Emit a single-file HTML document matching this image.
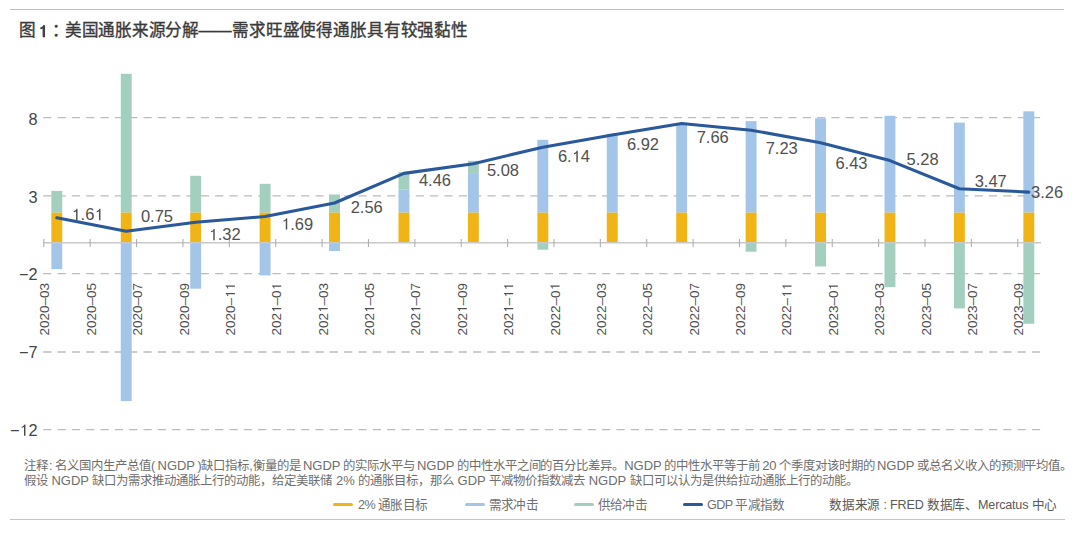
<!DOCTYPE html>
<html lang="zh-CN"><head><meta charset="utf-8">
<style>
html,body{margin:0;padding:0;background:#fff;}
body{width:1080px;height:534px;position:relative;overflow:hidden;font-family:"Liberation Sans",sans-serif;}
.rule{position:absolute;left:10px;height:1px;background:#bcbcbc;}
.t{position:absolute;top:20px;font-size:16.6px;letter-spacing:-0.3px;color:#3a3a3a;white-space:nowrap;line-height:22px;-webkit-text-stroke:0.35px #3a3a3a;}
svg{position:absolute;left:0;top:0;}
.dl{font-size:16.5px;fill:#505050;}
.yl{font-size:16.3px;fill:#454545;}
.xl{font-size:13.5px;fill:#4e4e4e;}
.note{position:absolute;left:24px;font-size:12.4px;color:#6e6e6e;white-space:nowrap;line-height:15px;}
.note .l{font-size:13px;}
.leg{position:absolute;top:497px;font-size:12.6px;letter-spacing:-0.6px;color:#707070;white-space:nowrap;line-height:16px;}
.sw{position:absolute;top:502.7px;width:20px;height:3px;border-radius:2px;}
</style></head><body>
<div class="rule" style="top:9px;width:1054px"></div>
<div class="t" style="left:18.5px">图</div>
<svg width="60" height="45" style="position:absolute;left:0;top:0"><path d="M580 0L760 0L760 1409L630 1409C585 1285 470 1165 290 1135L290 1000C425 1015 525 1065 580 1125Z" fill="#3a3a3a" stroke="#3a3a3a" stroke-width="120" transform="translate(38.4,36.9) scale(0.00811,-0.00811)"/></svg>
<div class="t" style="left:51.5px">：</div>
<div class="t" style="left:65px">美国通胀来源分解——</div>
<div class="t" style="left:232px;letter-spacing:-0.15px">需求旺盛使得通胀具有较强黏性</div>
<svg width="1080" height="534" viewBox="0 0 1080 534">
<line x1="43.2" y1="117.7" x2="1041" y2="117.7" stroke="#bcbcbc" stroke-width="1.3" stroke-dasharray="8.2 6.13"/>
<line x1="43.2" y1="195.9" x2="1041" y2="195.9" stroke="#bcbcbc" stroke-width="1.3" stroke-dasharray="8.2 6.13"/>
<line x1="43.2" y1="273.6" x2="1041" y2="273.6" stroke="#bcbcbc" stroke-width="1.3" stroke-dasharray="8.2 6.13"/>
<line x1="43.2" y1="352.0" x2="1041" y2="352.0" stroke="#bcbcbc" stroke-width="1.3" stroke-dasharray="8.2 6.13"/>
<line x1="43.2" y1="429.6" x2="1041" y2="429.6" stroke="#bcbcbc" stroke-width="1.3" stroke-dasharray="8.2 6.13"/>
<rect x="51.35" y="212.4" width="10.9" height="30.30" fill="#f1b416"/>
<rect x="51.35" y="242.7" width="10.9" height="26.50" fill="#a3c5e8"/>
<rect x="51.35" y="190.9" width="10.9" height="21.50" fill="#a3cfbf"/>
<rect x="120.78" y="212.4" width="10.9" height="30.30" fill="#f1b416"/>
<rect x="120.78" y="242.7" width="10.9" height="158.30" fill="#a3c5e8"/>
<rect x="120.78" y="73.8" width="10.9" height="138.60" fill="#a3cfbf"/>
<rect x="190.21" y="212.4" width="10.9" height="30.30" fill="#f1b416"/>
<rect x="190.21" y="242.7" width="10.9" height="46.00" fill="#a3c5e8"/>
<rect x="190.21" y="175.8" width="10.9" height="36.60" fill="#a3cfbf"/>
<rect x="259.64" y="212.4" width="10.9" height="30.30" fill="#f1b416"/>
<rect x="259.64" y="242.7" width="10.9" height="32.70" fill="#a3c5e8"/>
<rect x="259.64" y="183.8" width="10.9" height="28.60" fill="#a3cfbf"/>
<rect x="329.07" y="212.4" width="10.9" height="30.30" fill="#f1b416"/>
<rect x="329.07" y="242.7" width="10.9" height="8.30" fill="#a3c5e8"/>
<rect x="329.07" y="194.5" width="10.9" height="17.90" fill="#a3cfbf"/>
<rect x="398.50" y="212.4" width="10.9" height="30.30" fill="#f1b416"/>
<rect x="398.50" y="189.7" width="10.9" height="22.70" fill="#a3c5e8"/>
<rect x="398.50" y="172.1" width="10.9" height="17.60" fill="#a3cfbf"/>
<rect x="467.93" y="212.4" width="10.9" height="30.30" fill="#f1b416"/>
<rect x="467.93" y="173.9" width="10.9" height="38.50" fill="#a3c5e8"/>
<rect x="467.93" y="160.8" width="10.9" height="13.10" fill="#a3cfbf"/>
<rect x="537.36" y="212.4" width="10.9" height="30.30" fill="#f1b416"/>
<rect x="537.36" y="139.8" width="10.9" height="72.60" fill="#a3c5e8"/>
<rect x="537.36" y="242.7" width="10.9" height="7.00" fill="#a3cfbf"/>
<rect x="606.79" y="212.4" width="10.9" height="30.30" fill="#f1b416"/>
<rect x="606.79" y="133.7" width="10.9" height="78.70" fill="#a3c5e8"/>
<rect x="676.22" y="212.4" width="10.9" height="30.30" fill="#f1b416"/>
<rect x="676.22" y="123" width="10.9" height="89.40" fill="#a3c5e8"/>
<rect x="745.65" y="212.4" width="10.9" height="30.30" fill="#f1b416"/>
<rect x="745.65" y="121.1" width="10.9" height="91.30" fill="#a3c5e8"/>
<rect x="745.65" y="242.7" width="10.9" height="9.00" fill="#a3cfbf"/>
<rect x="815.08" y="212.4" width="10.9" height="30.30" fill="#f1b416"/>
<rect x="815.08" y="118.3" width="10.9" height="94.10" fill="#a3c5e8"/>
<rect x="815.08" y="242.7" width="10.9" height="23.80" fill="#a3cfbf"/>
<rect x="884.51" y="212.4" width="10.9" height="30.30" fill="#f1b416"/>
<rect x="884.51" y="115.8" width="10.9" height="96.60" fill="#a3c5e8"/>
<rect x="884.51" y="242.7" width="10.9" height="44.40" fill="#a3cfbf"/>
<rect x="953.94" y="212.4" width="10.9" height="30.30" fill="#f1b416"/>
<rect x="953.94" y="122.6" width="10.9" height="89.80" fill="#a3c5e8"/>
<rect x="953.94" y="242.7" width="10.9" height="65.70" fill="#a3cfbf"/>
<rect x="1023.37" y="212.4" width="10.9" height="30.30" fill="#f1b416"/>
<rect x="1023.37" y="111.3" width="10.9" height="101.10" fill="#a3c5e8"/>
<rect x="1023.37" y="242.7" width="10.9" height="81.00" fill="#a3cfbf"/>
<line x1="43" y1="242.7" x2="1041" y2="242.7" stroke="#c8c8c8" stroke-width="1.6"/>
<line x1="43.80" y1="239" x2="43.80" y2="247" stroke="#b0b0b0" stroke-width="1.1"/>
<line x1="90.18" y1="239" x2="90.18" y2="247" stroke="#b0b0b0" stroke-width="1.1"/>
<line x1="136.56" y1="239" x2="136.56" y2="247" stroke="#b0b0b0" stroke-width="1.1"/>
<line x1="182.94" y1="239" x2="182.94" y2="247" stroke="#b0b0b0" stroke-width="1.1"/>
<line x1="229.32" y1="239" x2="229.32" y2="247" stroke="#b0b0b0" stroke-width="1.1"/>
<line x1="275.70" y1="239" x2="275.70" y2="247" stroke="#b0b0b0" stroke-width="1.1"/>
<line x1="322.08" y1="239" x2="322.08" y2="247" stroke="#b0b0b0" stroke-width="1.1"/>
<line x1="368.46" y1="239" x2="368.46" y2="247" stroke="#b0b0b0" stroke-width="1.1"/>
<line x1="414.84" y1="239" x2="414.84" y2="247" stroke="#b0b0b0" stroke-width="1.1"/>
<line x1="461.22" y1="239" x2="461.22" y2="247" stroke="#b0b0b0" stroke-width="1.1"/>
<line x1="507.60" y1="239" x2="507.60" y2="247" stroke="#b0b0b0" stroke-width="1.1"/>
<line x1="553.98" y1="239" x2="553.98" y2="247" stroke="#b0b0b0" stroke-width="1.1"/>
<line x1="600.36" y1="239" x2="600.36" y2="247" stroke="#b0b0b0" stroke-width="1.1"/>
<line x1="646.74" y1="239" x2="646.74" y2="247" stroke="#b0b0b0" stroke-width="1.1"/>
<line x1="693.12" y1="239" x2="693.12" y2="247" stroke="#b0b0b0" stroke-width="1.1"/>
<line x1="739.50" y1="239" x2="739.50" y2="247" stroke="#b0b0b0" stroke-width="1.1"/>
<line x1="785.88" y1="239" x2="785.88" y2="247" stroke="#b0b0b0" stroke-width="1.1"/>
<line x1="832.26" y1="239" x2="832.26" y2="247" stroke="#b0b0b0" stroke-width="1.1"/>
<line x1="878.64" y1="239" x2="878.64" y2="247" stroke="#b0b0b0" stroke-width="1.1"/>
<line x1="925.02" y1="239" x2="925.02" y2="247" stroke="#b0b0b0" stroke-width="1.1"/>
<line x1="971.40" y1="239" x2="971.40" y2="247" stroke="#b0b0b0" stroke-width="1.1"/>
<line x1="1017.78" y1="239" x2="1017.78" y2="247" stroke="#b0b0b0" stroke-width="1.1"/>
<polyline points="56.80,217.80 126.23,231.21 195.66,222.32 265.09,216.55 334.52,202.99 403.95,173.37 473.38,163.70 542.81,147.18 612.24,135.02 681.67,123.48 751.10,130.18 820.53,142.66 889.96,160.58 959.39,188.80 1028.82,192.08" fill="none" stroke="#29589b" stroke-width="3.1" stroke-linejoin="round" stroke-linecap="round"/>
<text x="71.40" y="220.20" class="dl" text-anchor="start"> .6 </text><path d="M580 0L760 0L760 1409L630 1409C585 1285 470 1165 290 1135L290 1000C425 1015 525 1065 580 1125Z" class="dl" transform="translate(71.40,220.20) scale(0.00806,-0.00806)"/><path d="M580 0L760 0L760 1409L630 1409C585 1285 470 1165 290 1135L290 1000C425 1015 525 1065 580 1125Z" class="dl" transform="translate(94.34,220.20) scale(0.00806,-0.00806)"/>
<text x="140.90" y="221.50" class="dl" text-anchor="start">0.75</text>
<text x="208.60" y="240.30" class="dl" text-anchor="start"> .32</text><path d="M580 0L760 0L760 1409L630 1409C585 1285 470 1165 290 1135L290 1000C425 1015 525 1065 580 1125Z" class="dl" transform="translate(208.60,240.30) scale(0.00806,-0.00806)"/>
<text x="281.10" y="229.60" class="dl" text-anchor="start"> .69</text><path d="M580 0L760 0L760 1409L630 1409C585 1285 470 1165 290 1135L290 1000C425 1015 525 1065 580 1125Z" class="dl" transform="translate(281.10,229.60) scale(0.00806,-0.00806)"/>
<text x="350.70" y="212.80" class="dl" text-anchor="start">2.56</text>
<text x="418.90" y="185.70" class="dl" text-anchor="start">4.46</text>
<text x="486.90" y="176.40" class="dl" text-anchor="start">5.08</text>
<text x="557.90" y="162.20" class="dl" text-anchor="start">6. 4</text><path d="M580 0L760 0L760 1409L630 1409C585 1285 470 1165 290 1135L290 1000C425 1015 525 1065 580 1125Z" class="dl" transform="translate(571.66,162.20) scale(0.00806,-0.00806)"/>
<text x="626.90" y="149.70" class="dl" text-anchor="start">6.92</text>
<text x="696.70" y="142.70" class="dl" text-anchor="start">7.66</text>
<text x="765.70" y="154.00" class="dl" text-anchor="start">7.23</text>
<text x="835.40" y="168.50" class="dl" text-anchor="start">6.43</text>
<text x="906.50" y="164.70" class="dl" text-anchor="start">5.28</text>
<text x="974.70" y="186.60" class="dl" text-anchor="start">3.47</text>
<text x="1031.10" y="197.90" class="dl" text-anchor="start">3.26</text>
<text x="37.50" y="124.70" class="yl" text-anchor="end">8</text>
<text x="37.50" y="202.90" class="yl" text-anchor="end">3</text>
<text x="37.50" y="280.30" class="yl" text-anchor="end">−2</text>
<text x="37.50" y="358.30" class="yl" text-anchor="end">−7</text>
<text x="37.50" y="435.80" class="yl" text-anchor="end">− 2</text><path d="M580 0L760 0L760 1409L630 1409C585 1285 470 1165 290 1135L290 1000C425 1015 525 1065 580 1125Z" class="yl" transform="translate(19.37,435.80) scale(0.00796,-0.00796)"/>
<g transform="translate(49.40,283) rotate(-90)"><text x="0.00" y="0.00" class="xl" text-anchor="end">2020–03</text></g>
<g transform="translate(95.78,283) rotate(-90)"><text x="0.00" y="0.00" class="xl" text-anchor="end">2020–05</text></g>
<g transform="translate(142.16,283) rotate(-90)"><text x="0.00" y="0.00" class="xl" text-anchor="end">2020–07</text></g>
<g transform="translate(188.54,283) rotate(-90)"><text x="0.00" y="0.00" class="xl" text-anchor="end">2020–09</text></g>
<g transform="translate(234.92,283) rotate(-90)"><text x="0.00" y="0.00" class="xl" text-anchor="end">2020–  </text><path d="M580 0L760 0L760 1409L630 1409C585 1285 470 1165 290 1135L290 1000C425 1015 525 1065 580 1125Z" class="xl" transform="translate(-15.02,0.00) scale(0.00659,-0.00659)"/><path d="M580 0L760 0L760 1409L630 1409C585 1285 470 1165 290 1135L290 1000C425 1015 525 1065 580 1125Z" class="xl" transform="translate(-7.51,0.00) scale(0.00659,-0.00659)"/></g>
<g transform="translate(281.30,283) rotate(-90)"><text x="0.00" y="0.00" class="xl" text-anchor="end">202 –0 </text><path d="M580 0L760 0L760 1409L630 1409C585 1285 470 1165 290 1135L290 1000C425 1015 525 1065 580 1125Z" class="xl" transform="translate(-30.03,0.00) scale(0.00659,-0.00659)"/><path d="M580 0L760 0L760 1409L630 1409C585 1285 470 1165 290 1135L290 1000C425 1015 525 1065 580 1125Z" class="xl" transform="translate(-7.51,0.00) scale(0.00659,-0.00659)"/></g>
<g transform="translate(327.68,283) rotate(-90)"><text x="0.00" y="0.00" class="xl" text-anchor="end">202 –03</text><path d="M580 0L760 0L760 1409L630 1409C585 1285 470 1165 290 1135L290 1000C425 1015 525 1065 580 1125Z" class="xl" transform="translate(-30.03,0.00) scale(0.00659,-0.00659)"/></g>
<g transform="translate(374.06,283) rotate(-90)"><text x="0.00" y="0.00" class="xl" text-anchor="end">202 –05</text><path d="M580 0L760 0L760 1409L630 1409C585 1285 470 1165 290 1135L290 1000C425 1015 525 1065 580 1125Z" class="xl" transform="translate(-30.03,0.00) scale(0.00659,-0.00659)"/></g>
<g transform="translate(420.44,283) rotate(-90)"><text x="0.00" y="0.00" class="xl" text-anchor="end">202 –07</text><path d="M580 0L760 0L760 1409L630 1409C585 1285 470 1165 290 1135L290 1000C425 1015 525 1065 580 1125Z" class="xl" transform="translate(-30.03,0.00) scale(0.00659,-0.00659)"/></g>
<g transform="translate(466.82,283) rotate(-90)"><text x="0.00" y="0.00" class="xl" text-anchor="end">202 –09</text><path d="M580 0L760 0L760 1409L630 1409C585 1285 470 1165 290 1135L290 1000C425 1015 525 1065 580 1125Z" class="xl" transform="translate(-30.03,0.00) scale(0.00659,-0.00659)"/></g>
<g transform="translate(513.20,283) rotate(-90)"><text x="0.00" y="0.00" class="xl" text-anchor="end">202 –  </text><path d="M580 0L760 0L760 1409L630 1409C585 1285 470 1165 290 1135L290 1000C425 1015 525 1065 580 1125Z" class="xl" transform="translate(-30.03,0.00) scale(0.00659,-0.00659)"/><path d="M580 0L760 0L760 1409L630 1409C585 1285 470 1165 290 1135L290 1000C425 1015 525 1065 580 1125Z" class="xl" transform="translate(-15.02,0.00) scale(0.00659,-0.00659)"/><path d="M580 0L760 0L760 1409L630 1409C585 1285 470 1165 290 1135L290 1000C425 1015 525 1065 580 1125Z" class="xl" transform="translate(-7.51,0.00) scale(0.00659,-0.00659)"/></g>
<g transform="translate(559.58,283) rotate(-90)"><text x="0.00" y="0.00" class="xl" text-anchor="end">2022–0 </text><path d="M580 0L760 0L760 1409L630 1409C585 1285 470 1165 290 1135L290 1000C425 1015 525 1065 580 1125Z" class="xl" transform="translate(-7.51,0.00) scale(0.00659,-0.00659)"/></g>
<g transform="translate(605.96,283) rotate(-90)"><text x="0.00" y="0.00" class="xl" text-anchor="end">2022–03</text></g>
<g transform="translate(652.34,283) rotate(-90)"><text x="0.00" y="0.00" class="xl" text-anchor="end">2022–05</text></g>
<g transform="translate(698.72,283) rotate(-90)"><text x="0.00" y="0.00" class="xl" text-anchor="end">2022–07</text></g>
<g transform="translate(745.10,283) rotate(-90)"><text x="0.00" y="0.00" class="xl" text-anchor="end">2022–09</text></g>
<g transform="translate(791.48,283) rotate(-90)"><text x="0.00" y="0.00" class="xl" text-anchor="end">2022–  </text><path d="M580 0L760 0L760 1409L630 1409C585 1285 470 1165 290 1135L290 1000C425 1015 525 1065 580 1125Z" class="xl" transform="translate(-15.02,0.00) scale(0.00659,-0.00659)"/><path d="M580 0L760 0L760 1409L630 1409C585 1285 470 1165 290 1135L290 1000C425 1015 525 1065 580 1125Z" class="xl" transform="translate(-7.51,0.00) scale(0.00659,-0.00659)"/></g>
<g transform="translate(837.86,283) rotate(-90)"><text x="0.00" y="0.00" class="xl" text-anchor="end">2023–0 </text><path d="M580 0L760 0L760 1409L630 1409C585 1285 470 1165 290 1135L290 1000C425 1015 525 1065 580 1125Z" class="xl" transform="translate(-7.51,0.00) scale(0.00659,-0.00659)"/></g>
<g transform="translate(884.24,283) rotate(-90)"><text x="0.00" y="0.00" class="xl" text-anchor="end">2023–03</text></g>
<g transform="translate(930.62,283) rotate(-90)"><text x="0.00" y="0.00" class="xl" text-anchor="end">2023–05</text></g>
<g transform="translate(977.00,283) rotate(-90)"><text x="0.00" y="0.00" class="xl" text-anchor="end">2023–07</text></g>
<g transform="translate(1023.38,283) rotate(-90)"><text x="0.00" y="0.00" class="xl" text-anchor="end">2023–09</text></g>
</svg>
<div class="note" style="top:458.3px;left:23.8px;word-spacing:-1px;letter-spacing:-0.04px">注释<span style="margin:0 3px 0 1.3px">:</span>名义国内生产总值( <span class="l">NGDP</span> )缺口指标,衡量的是 <span class="l">NGDP</span> 的实际水平与 <span class="l">NGDP</span> 的中性水平之间的百分比差异。<span class="l">NGDP</span> 的中性水平等于前 <span class="l">20</span> 个季度对该时期的 <span class="l">NGDP</span> 或总名义收入的预测平均值。</div>
<div class="note" style="top:472.8px;left:24px;letter-spacing:0px">假设 <span class="l">NGDP</span> 缺口为需求推动通胀上行的动能，给定美联储 <span class="l">2%</span> 的通胀目标，那么 <span class="l">GDP</span> 平减物价指数减去 <span class="l">NGDP</span> 缺口可以认为是供给拉动通胀上行的动能。</div>
<div class="sw" style="left:333px;background:#f1b416"></div><div class="leg" style="left:358px">2% 通胀目标</div>
<div class="sw" style="left:464.5px;background:#a3c5e8"></div><div class="leg" style="left:488.5px">需求冲击</div>
<div class="sw" style="left:574px;background:#a3cfbf"></div><div class="leg" style="left:597.5px">供给冲击</div>
<div class="sw" style="left:682.5px;background:#29589b"></div><div class="leg" style="left:707px">GDP 平减指数</div>
<div class="leg" style="left:829px;color:#5a5a5a;letter-spacing:-0.2px">数据来源 : FRED 数据库、Mercatus 中心</div>
<div class="rule" style="top:519px;width:1055px;background:#c4c4c4"></div>
</body></html>
